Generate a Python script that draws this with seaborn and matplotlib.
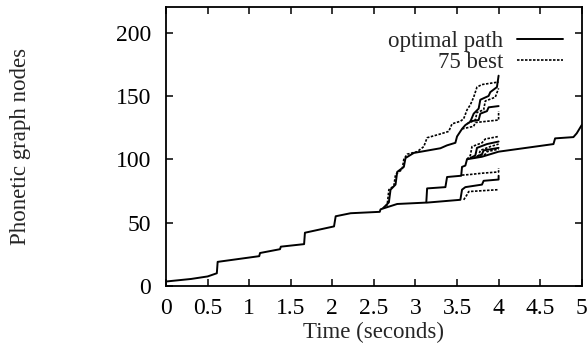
import numpy as np
import pandas as pd
import seaborn as sns
import matplotlib.pyplot as plt

# optimal path, full 5 seconds
optimal_t = [0, 0.3, 0.5, 0.61, 0.62, 1.12, 1.13, 1.37, 1.38, 1.66, 1.67, 2.02, 2.04,
             2.22, 2.57, 2.58, 2.78, 3.13, 3.14, 3.36, 3.38, 3.55, 3.56, 3.6, 3.62,
             3.8, 4.0, 4.66, 4.68, 4.9, 4.94, 5.0]
optimal_v = [3.5, 5.5, 7.5, 10, 19, 23.5, 26, 29, 31, 33, 42, 47, 55,
             57.4, 58.5, 60.5, 64.7, 65.8, 77, 78, 86, 87, 94, 95, 100,
             102, 106, 112, 116.5, 117.5, 120.5, 127]

# the other hypotheses (up to 4 seconds)
top_solid_t = [2.62, 2.68, 2.7, 2.76, 2.78, 2.86, 2.88, 2.98, 3.3, 3.38, 3.48, 3.5, 3.56,
               3.6, 3.66, 3.7, 3.76, 3.78, 3.88, 3.9, 3.98, 4.0]
top_solid_v = [62, 66, 76, 80, 90, 94, 101, 105, 108.7, 111, 113, 118, 124,
               127, 129.7, 136, 140, 147, 150, 153, 157, 166]
top_dot_t = [2.6, 2.66, 2.68, 2.74, 2.76, 2.84, 2.86, 2.9, 3.02, 3.1, 3.14, 3.3, 3.4,
             3.44, 3.54, 3.58, 3.62, 3.66, 3.7, 3.74, 3.8, 4.0]
top_dot_v = [61, 64, 76, 79, 88, 92, 100, 104, 106, 110, 117, 120, 122,
             128, 130, 132, 139, 143, 149, 157, 159, 161]
up_dot2_t = [3.62, 3.72, 3.74, 3.82, 3.84, 3.96, 4.0]
up_dot2_v = [128, 131, 137, 139, 146, 149, 156]
up_solid2_t = [3.66, 3.76, 3.78, 3.86, 3.88, 4.0]
up_solid2_v = [130, 131, 136, 138, 141, 142]
up_dot3_t = [3.56, 3.7, 3.72, 4.0, 4.0]
up_dot3_v = [124, 126, 129, 131, 138]

fan1_t = [3.62, 3.66, 3.68, 3.8, 3.84, 4.0]
fan1_v = [100, 103, 110, 113, 116, 118]
fan2_t = [3.66, 3.72, 3.74, 3.86, 4.0]
fan2_v = [101, 103, 109, 112, 114]
fan3_t = [3.7, 3.76, 3.78, 3.9, 4.0]
fan3_v = [101, 103, 107, 110, 112]
fan4_t = [3.74, 3.8, 3.82, 4.0]
fan4_v = [102, 104, 107, 109]
fan5_t = [3.78, 3.84, 3.86, 4.0]
fan5_v = [102, 104, 106, 108]

low_solid_t = [3.14, 3.54, 3.56, 3.6, 3.8, 3.82, 4.0, 4.0]
low_solid_v = [65.8, 68, 76, 78, 80, 83, 84, 87]
low_dot1_t = [3.58, 3.62, 3.64, 4.0]
low_dot1_v = [68, 72, 74.5, 76]
low_dot2_t = [3.56, 3.66, 3.8, 4.0, 4.0]
low_dot2_v = [87.5, 88, 89, 90, 93]

x_ticks = [0, 0.5, 1, 1.5, 2, 2.5, 3, 3.5, 4, 4.5, 5]
x_tick_labels = ['0', '0.5', '1', '1.5', '2', '2.5', '3', '3.5', '4', '4.5', '5']
y_ticks = [0, 50, 100, 150, 200]

solid_paths = [(top_solid_t, top_solid_v), (up_solid2_t, up_solid2_v),
               (fan2_t, fan2_v), (fan4_t, fan4_v), (low_solid_t, low_solid_v)]
dotted_paths = [(top_dot_t, top_dot_v), (up_dot2_t, up_dot2_v), (up_dot3_t, up_dot3_v),
                (fan1_t, fan1_v), (fan3_t, fan3_v), (fan5_t, fan5_v),
                (low_dot1_t, low_dot1_v), (low_dot2_t, low_dot2_v)]

sns.set_theme(style='ticks')
plt.rcParams['font.family'] = ['Liberation Serif', 'DejaVu Serif']

fig, ax = plt.subplots(figsize=(5.87, 3.47), dpi=100)
fig.subplots_adjust(left=0.283, right=0.991, top=0.979, bottom=0.176)

dot_style = (0, (1.5, 0.9))

sns.lineplot(x=optimal_t, y=optimal_v, sort=False, estimator=None, color='black',
             linewidth=1.4, ax=ax, label='optimal path')
for i, (tt, vv) in enumerate(dotted_paths):
    sns.lineplot(x=tt, y=vv, sort=False, estimator=None, color='black', linewidth=1.2,
                 linestyle=dot_style, ax=ax, label='75 best' if i == 0 else None)
for tt, vv in solid_paths:
    sns.lineplot(x=tt, y=vv, sort=False, estimator=None, color='black', linewidth=1.4, ax=ax)

ax.set_xlim(0, 5)
ax.set_ylim(0, 220)
ax.set_xticks(x_ticks)
ax.set_xticklabels(x_tick_labels)
ax.set_yticks(y_ticks)
ax.tick_params(direction='in', top=True, right=True, length=5, width=1.1,
               labelsize=17, pad=9, colors='black')
ax.tick_params(axis='y', pad=11)
for sp in ax.spines.values():
    sp.set_linewidth(1.3)
    sp.set_color('black')

ax.set_xlabel('Time (seconds)', fontsize=16.5)
ax.set_ylabel('Phonetic graph nodes', fontsize=16.5)
ax.xaxis.set_label_coords(0.5, -0.13)
ax.yaxis.set_label_coords(-0.325, 0.5)

ax.legend(loc='upper right', bbox_to_anchor=(0.955, 0.915), frameon=False, markerfirst=False,
          fontsize=16.5, handlelength=2.0, handletextpad=0.6, labelspacing=0.0, borderpad=0,
          borderaxespad=0)

fig.savefig('out.png', dpi=100)
